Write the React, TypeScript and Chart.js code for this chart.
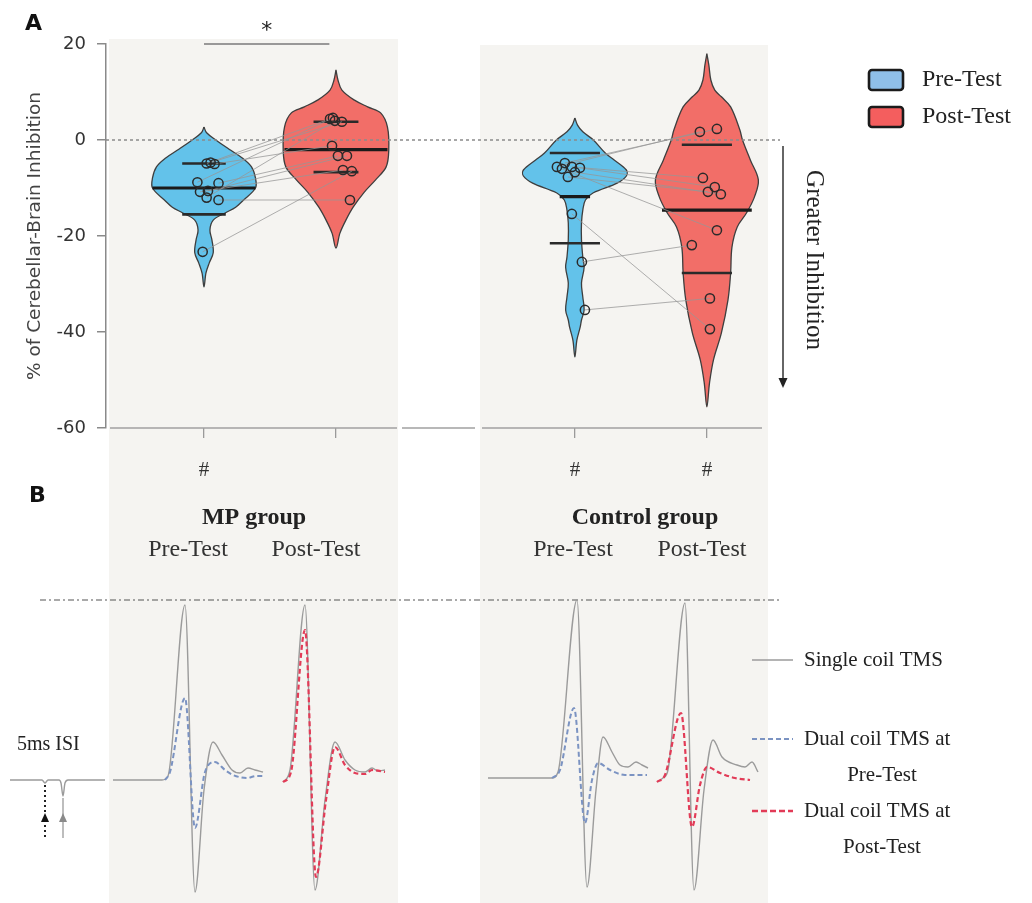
import React, { useEffect, useRef } from 'react';
import { Chart, registerables } from 'chart.js';

Chart.register(...registerables);

// ================= Panel A data =================
const CATEGORIES = ['MP Pre-Test', 'MP Post-Test', 'Control Pre-Test', 'Control Post-Test'];
const CAT_POS = [1, 2, 3.81, 4.81];
const CAT_HASH = ['#', '', '#', '#'];
const Y_MIN = -60;
const Y_MAX = 20;
const Y_STEP = 20;

// individual subjects (same index = same subject, pre -> post)
const MP_PRE = [-4.9, -5.0, -4.7, -8.8, -9.0, -10.8, -10.6, -12.0, -12.5, -23.3];
const MP_POST = [4.4, -1.2, 3.8, 4.6, -3.3, -6.25, -3.3, 4.0, -12.5, -6.5];
const CTL_PRE = [-5.6, -4.8, -5.6, -5.8, -7.7, -6.7, -6.0, -15.4, -25.4, -35.4];
const CTL_POST = [1.7, 2.3, -7.9, -9.8, -10.8, -11.3, -18.8, -39.4, -21.9, -33.0];
// horizontal jitter of the dots (category units)
const MP_PRE_JIT = [0.02, 0.08, 0.05, -0.05, 0.11, -0.03, 0.03, 0.02, 0.11, -0.01];
const MP_POST_JIT = [-0.045, -0.03, 0.045, -0.023, 0.015, 0.053, 0.083, -0.008, 0.106, 0.12];
const CTL_PRE_JIT = [-0.136, -0.076, -0.023, 0.038, -0.053, 0.0, -0.098, -0.023, 0.053, 0.076];
const CTL_POST_JIT = [-0.053, 0.076, -0.03, 0.06, 0.008, 0.106, 0.076, 0.023, -0.114, 0.023];

// summary lines
const Q3 = [-4.9, 3.8, -2.7, -1.0];
const MEDIAN = [-10.0, -2.0, -11.8, -14.6];
const Q1 = [-15.5, -6.7, -21.5, -27.7];

// violin density profiles: value levels and half-widths (category units)
const VIO_Y_MP_PRE = [2.7, 1.5, 0, -2.1, -3.75, -5.6, -7.9, -10, -12.5, -14, -15.2, -16.7, -18.75, -20.8, -23.5, -25.6, -27.7, -30.6];
const VIO_W_MP_PRE = [0, 0.02, 0.09, 0.2, 0.29, 0.36, 0.39, 0.39, 0.3, 0.24, 0.16, 0.07, 0.045, 0.06, 0.07, 0.04, 0.015, 0];
const VIO_Y_MP_POST = [14.6, 12.5, 10.4, 8.3, 6.9, 5.6, 2.7, -2.1, -5.6, -8.3, -11, -14, -16.7, -19.4, -22.5];
const VIO_W_MP_POST = [0, 0.015, 0.045, 0.14, 0.24, 0.34, 0.39, 0.4, 0.38, 0.3, 0.21, 0.13, 0.075, 0.03, 0];
const VIO_Y_CTL_PRE = [4.6, 3.1, 1.7, 0, -2.7, -4.2, -6.25, -7.5, -9, -11, -12.5, -14.6, -17.3, -20.8, -24.4, -26.5, -29.8, -32.7, -35.4, -37.5, -39, -41.7, -45.2];
const VIO_W_CTL_PRE = [0, 0.02, 0.06, 0.14, 0.23, 0.3, 0.39, 0.39, 0.32, 0.14, 0.08, 0.06, 0.05, 0.05, 0.06, 0.07, 0.05, 0.06, 0.07, 0.05, 0.04, 0.015, 0];
const VIO_Y_CTL_POST = [18, 15.6, 12.5, 10.4, 9, 6.9, 2.1, 0, -4.2, -8.3, -11.9, -15.2, -18.1, -22.3, -27.7, -33.3, -40.2, -45.8, -50.6, -55.6];
const VIO_W_CTL_POST = [0, 0.015, 0.03, 0.06, 0.11, 0.18, 0.25, 0.27, 0.33, 0.39, 0.36, 0.3, 0.23, 0.19, 0.18, 0.16, 0.11, 0.05, 0.02, 0];

const SIG_FROM = 1;
const SIG_TO = 1.95;
const SIG_Y = 20;
const SIG_LABEL = '*';

// ================= Panel B data (MEP traces; t in ms, amplitude in mV) =================
const REF_PEAK = 1.8;
const REF_T = [10, 195];

const ISI_T = [0, 8, 8.75, 9.5, 12.25, 12.75, 13.25, 13.75, 14.5, 23.75];
const ISI_A = [0, 0, -0.03, 0, 0, -0.03, -0.16, -0.03, 0, 0];
const ISI_PULSES = [8.75, 13.25];

const MP_PRE_SINGLE_T = [0, 12.25, 13.75, 18, 20.5, 22.75, 25, 27.25, 29.75, 31.75, 33.75, 35.5, 37.5];
const MP_PRE_SINGLE_A = [0, 0, 0.04, 1.75, -1.12, -0.1, 0.38, 0.25, 0.1, 0.07, 0.12, 0.1, 0.08];
const MP_PRE_DUAL_T = [13, 14.25, 18, 20.5, 23, 25.5, 28, 30, 33.5, 35.75, 38];
const MP_PRE_DUAL_A = [0, 0.08, 0.82, -0.48, 0.08, 0.18, 0.1, 0.05, 0.02, 0.04, 0.04];

const MP_POST_SINGLE_T = [0, 1.75, 5.5, 8, 10.5, 13, 15.5, 18, 20.5, 22.25, 23.75, 25.5];
const MP_POST_SINGLE_A = [-0.02, 0.1, 1.75, -1.1, -0.2, 0.38, 0.2, 0.1, 0.08, 0.12, 0.09, 0.1];
const MP_POST_DUAL_T = [0, 2, 5.5, 8.25, 10.75, 13, 15.5, 18, 20.5, 22.25, 25.5];
const MP_POST_DUAL_A = [-0.02, 0.08, 1.5, -0.97, -0.2, 0.33, 0.15, 0.07, 0.06, 0.1, 0.08];

const CTL_PRE_SINGLE_T = [0, 16, 17.5, 22.25, 24.75, 27, 28.75, 31, 33, 35, 37, 38.5, 40];
const CTL_PRE_SINGLE_A = [0.02, 0.02, 0.08, 1.8, -1.07, -0.1, 0.43, 0.28, 0.15, 0.13, 0.18, 0.15, 0.12];
const CTL_PRE_DUAL_T = [16, 18, 21.5, 24.25, 26, 27.5, 30.5, 34.25, 39.75];
const CTL_PRE_DUAL_A = [0.02, 0.1, 0.72, -0.43, 0, 0.17, 0.1, 0.05, 0.05];

const CTL_POST_SINGLE_T = [0, 1.5, 2.75, 7, 9.25, 11.75, 14, 16.25, 20, 22, 23.75, 25.25];
const CTL_POST_SINGLE_A = [-0.02, 0.02, 0.1, 1.77, -1.1, -0.1, 0.4, 0.23, 0.15, 0.13, 0.18, 0.08];
const CTL_POST_DUAL_T = [0, 2, 6, 8.75, 10.75, 12.5, 15.75, 19.5, 23.25];
const CTL_POST_DUAL_A = [-0.02, 0.05, 0.67, -0.47, -0.05, 0.13, 0.07, 0.02, 0];

// ================= layout / style =================
const PANEL_BG = '#f5f4f1';
const BLUE = '#63c2ea';
const RED = '#f26e68';
const X_MIN = 0.2576;
const X_MAX = 5.364;
const QUART_HALF = [0.165, 0.17, 0.19, 0.19];
const MEDIAN_HALF = [0.39, 0.39, 0.115, 0.34];
const TRACE_OFFSET = { isi: 2.5, mpPre: 28.25, mpPost: 70.75, ctlPre: 122, ctlPost: 164.25 };
const SERIF = '"Liberation Serif", "Times New Roman", serif';
const SANS = '"DejaVu Sans", Arial, sans-serif';
const TRACE_GRAY = '#9b9b9b';
const TRACE_BLUE = '#7b93c2';
const TRACE_RED = '#e23b57';

function violinPolygon(center: number, ys: number[], ws: number[]) {
  const right = ys.map((y, i) => ({ x: center + ws[i], y }));
  const left = ys.slice(0, -1).map((y, i) => ({ x: center - ws[i], y })).reverse();
  return [...right, ...left];
}

function segments(vals: number[], halves: number[]) {
  const out: any[] = [];
  CAT_POS.forEach((c, i) => {
    out.push({ x: c - halves[i], y: vals[i] }, { x: c + halves[i], y: vals[i] }, { x: c, y: null });
  });
  return out;
}

function pairLines(pre: number[], preJ: number[], post: number[], postJ: number[], c0: number, c1: number) {
  const out: any[] = [];
  pre.forEach((v, i) => {
    out.push({ x: c0 + preJ[i], y: v }, { x: c1 + postJ[i], y: post[i] }, { x: c1, y: null });
  });
  return out;
}

function dots(vals: number[], jit: number[], c: number) {
  return vals.map((v, i) => ({ x: c + jit[i], y: v }));
}

function trace(t: number[], a: number[], off: number) {
  return t.map((tt, i) => ({ x: off + tt, y: a[i] }));
}

const topPlugin = {
  id: 'topDecor',
  afterDraw(chart: any) {
    const { ctx } = chart;
    const xs = chart.scales.x;
    const ys = chart.scales.y;
    ctx.save();
    // broken x-axis baseline
    const yb = ys.getPixelForValue(Y_MIN);
    ctx.strokeStyle = '#a0a0a0';
    ctx.lineWidth = 1.5;
    [[110, 397], [402, 475], [482, 762]].forEach(([a, b]) => {
      ctx.beginPath();
      ctx.moveTo(a, yb);
      ctx.lineTo(b, yb);
      ctx.stroke();
    });
    // panel letters
    ctx.fillStyle = '#111';
    ctx.font = `bold 22px ${SANS}`;
    ctx.textAlign = 'left';
    ctx.textBaseline = 'alphabetic';
    ctx.fillText('A', 25, 30);
    ctx.fillText('B', 29, 502);
    // significance star
    ctx.fillStyle = '#222';
    ctx.font = `22px ${SANS}`;
    ctx.textAlign = 'center';
    ctx.fillText(SIG_LABEL, xs.getPixelForValue((SIG_FROM + SIG_TO) / 2), 37);
    // # markers
    ctx.font = `21px ${SERIF}`;
    ctx.textBaseline = 'middle';
    ctx.fillStyle = '#333';
    CAT_POS.forEach((c, i) => {
      if (CAT_HASH[i]) ctx.fillText(CAT_HASH[i], xs.getPixelForValue(c), 470);
    });
    // group labels
    ctx.fillStyle = '#222';
    ctx.font = `bold 24px ${SERIF}`;
    ctx.fillText('MP group', 254, 518);
    ctx.fillText('Control group', 645, 518);
    ctx.font = `24px ${SERIF}`;
    ctx.fillStyle = '#333';
    ctx.fillText('Pre-Test', 188, 550);
    ctx.fillText('Post-Test', 316, 550);
    ctx.fillText('Pre-Test', 573, 550);
    ctx.fillText('Post-Test', 702, 550);
    // legend
    const sw = [
      { y: 70, c: '#8fbfe8', t: 'Pre-Test' },
      { y: 107, c: '#f45e5e', t: 'Post-Test' },
    ];
    sw.forEach((s) => {
      ctx.beginPath();
      ctx.roundRect(869, s.y, 34, 20, 3);
      ctx.fillStyle = s.c;
      ctx.fill();
      ctx.lineWidth = 2.6;
      ctx.strokeStyle = '#1b1b1b';
      ctx.stroke();
      ctx.fillStyle = '#222';
      ctx.font = `24px ${SERIF}`;
      ctx.textAlign = 'left';
      ctx.textBaseline = 'middle';
      ctx.fillText(s.t, 922, s.y + 10);
    });
    // greater inhibition arrow
    ctx.strokeStyle = '#333';
    ctx.fillStyle = '#222';
    ctx.lineWidth = 1.5;
    ctx.beginPath();
    ctx.moveTo(783, 146);
    ctx.lineTo(783, 380);
    ctx.stroke();
    ctx.beginPath();
    ctx.moveTo(778.5, 378);
    ctx.lineTo(787.5, 378);
    ctx.lineTo(783, 388);
    ctx.closePath();
    ctx.fill();
    ctx.save();
    ctx.translate(814, 260);
    ctx.rotate(Math.PI / 2);
    ctx.font = `25px ${SERIF}`;
    ctx.textAlign = 'center';
    ctx.textBaseline = 'middle';
    ctx.fillStyle = '#222';
    ctx.fillText('Greater Inhibition', 0, 0);
    ctx.restore();
    ctx.restore();
  },
};

const bottomPlugin = {
  id: 'bottomDecor',
  afterDraw(chart: any) {
    const { ctx } = chart;
    const xs = chart.scales.x;
    const base = chart.scales.y.getPixelForValue(0);
    ctx.save();
    ctx.fillStyle = '#222';
    ctx.font = `20px ${SERIF}`;
    ctx.textAlign = 'left';
    ctx.textBaseline = 'middle';
    ctx.fillText('5ms ISI', 17, base - 35);
    // stimulus arrows
    const p1 = xs.getPixelForValue(TRACE_OFFSET.isi + ISI_PULSES[0]);
    const p2 = xs.getPixelForValue(TRACE_OFFSET.isi + ISI_PULSES[1]);
    ctx.strokeStyle = '#222';
    ctx.lineWidth = 2;
    ctx.setLineDash([2, 3]);
    ctx.beginPath();
    ctx.moveTo(p1, base + 5);
    ctx.lineTo(p1, base + 58);
    ctx.stroke();
    ctx.setLineDash([]);
    ctx.fillStyle = '#111';
    ctx.beginPath();
    ctx.moveTo(p1, base + 33);
    ctx.lineTo(p1 - 4, base + 42);
    ctx.lineTo(p1 + 4, base + 42);
    ctx.closePath();
    ctx.fill();
    ctx.strokeStyle = '#9a9a9a';
    ctx.lineWidth = 1.3;
    ctx.beginPath();
    ctx.moveTo(p2, base + 18);
    ctx.lineTo(p2, base + 58);
    ctx.stroke();
    ctx.fillStyle = '#8a8a8a';
    ctx.beginPath();
    ctx.moveTo(p2, base + 33);
    ctx.lineTo(p2 - 4, base + 42);
    ctx.lineTo(p2 + 4, base + 42);
    ctx.closePath();
    ctx.fill();
    // legend
    const items = [
      { y: 80, color: TRACE_GRAY, dash: [] as number[], w: 1.5, lines: ['Single coil TMS'] },
      { y: 159, color: TRACE_BLUE, dash: [5, 3], w: 1.8, lines: ['Dual coil TMS at', 'Pre-Test'] },
      { y: 231, color: TRACE_RED, dash: [6, 3], w: 2.6, lines: ['Dual coil TMS at', 'Post-Test'] },
    ];
    items.forEach((it) => {
      ctx.strokeStyle = it.color;
      ctx.lineWidth = it.w;
      ctx.setLineDash(it.dash);
      ctx.beginPath();
      ctx.moveTo(752, it.y);
      ctx.lineTo(793, it.y);
      ctx.stroke();
      ctx.setLineDash([]);
      ctx.fillStyle = '#222';
      ctx.font = `21px ${SERIF}`;
      ctx.textAlign = 'left';
      ctx.textBaseline = 'middle';
      ctx.fillText(it.lines[0], 804, it.y);
      if (it.lines[1]) {
        ctx.textAlign = 'center';
        ctx.fillText(it.lines[1], 882, it.y + 36);
      }
    });
    ctx.restore();
  },
};

function topConfig(): any {
  const violins = [
    { c: CAT_POS[0], y: VIO_Y_MP_PRE, w: VIO_W_MP_PRE, col: BLUE },
    { c: CAT_POS[1], y: VIO_Y_MP_POST, w: VIO_W_MP_POST, col: RED },
    { c: CAT_POS[2], y: VIO_Y_CTL_PRE, w: VIO_W_CTL_PRE, col: BLUE },
    { c: CAT_POS[3], y: VIO_Y_CTL_POST, w: VIO_W_CTL_POST, col: RED },
  ].map((v, i) => ({
    type: 'line',
    label: CATEGORIES[i],
    data: violinPolygon(v.c, v.y, v.w),
    fill: 'shape',
    backgroundColor: v.col,
    borderColor: '#3e3e3e',
    borderWidth: 1.3,
    tension: 0.35,
    pointRadius: 0,
    order: 6,
  }));
  const datasets: any[] = [
    ...violins,
    {
      type: 'line',
      label: 'zero',
      data: [{ x: X_MIN, y: 0 }, { x: X_MAX, y: 0 }],
      borderColor: '#8a8a8a',
      borderDash: [3, 3],
      borderWidth: 1.4,
      pointRadius: 0,
      order: 5,
    },
    {
      type: 'line',
      label: 'quartiles',
      data: [...segments(Q3, QUART_HALF), ...segments(Q1, QUART_HALF)],
      borderColor: '#2a2a2a',
      borderWidth: 2.6,
      pointRadius: 0,
      spanGaps: false,
      order: 4,
    },
    {
      type: 'line',
      label: 'median',
      data: segments(MEDIAN, MEDIAN_HALF),
      borderColor: '#1a1a1a',
      borderWidth: 3.2,
      pointRadius: 0,
      spanGaps: false,
      order: 4,
    },
    {
      type: 'line',
      label: 'pairs',
      data: [
        ...pairLines(MP_PRE, MP_PRE_JIT, MP_POST, MP_POST_JIT, CAT_POS[0], CAT_POS[1]),
        ...pairLines(CTL_PRE, CTL_PRE_JIT, CTL_POST, CTL_POST_JIT, CAT_POS[2], CAT_POS[3]),
      ],
      borderColor: 'rgba(150,150,150,0.85)',
      borderWidth: 0.9,
      pointRadius: 0,
      spanGaps: false,
      order: 3,
    },
    {
      type: 'scatter',
      label: 'subjects',
      data: [
        ...dots(MP_PRE, MP_PRE_JIT, CAT_POS[0]),
        ...dots(MP_POST, MP_POST_JIT, CAT_POS[1]),
        ...dots(CTL_PRE, CTL_PRE_JIT, CAT_POS[2]),
        ...dots(CTL_POST, CTL_POST_JIT, CAT_POS[3]),
      ],
      pointRadius: 4.6,
      pointBorderWidth: 1.5,
      borderColor: '#2a2a2a',
      backgroundColor: 'rgba(0,0,0,0)',
      showLine: false,
      order: 1,
    },
    {
      type: 'line',
      label: 'significance',
      data: [{ x: SIG_FROM, y: SIG_Y }, { x: SIG_TO, y: SIG_Y }],
      borderColor: '#7a7a7a',
      borderWidth: 1.6,
      pointRadius: 0,
      clip: false,
      order: 0,
    },
  ];
  return {
    type: 'line',
    data: { datasets },
    options: {
      responsive: false,
      maintainAspectRatio: false,
      animation: false,
      events: [],
      layout: { padding: { left: 0, right: 252, top: 44, bottom: 0 } },
      plugins: { legend: { display: false }, tooltip: { enabled: false } },
      scales: {
        x: {
          type: 'linear',
          min: X_MIN,
          max: X_MAX,
          afterBuildTicks: (s: any) => {
            s.ticks = CAT_POS.map((v) => ({ value: v }));
          },
          afterFit: (s: any) => {
            s.height = 152;
            s.paddingLeft = 0;
            s.paddingRight = 0;
          },
          ticks: { display: false },
          grid: { drawOnChartArea: false, drawTicks: true, tickLength: 10, color: '#9a9a9a', lineWidth: 1.3 },
          border: { display: false },
        },
        y: {
          type: 'linear',
          min: Y_MIN,
          max: Y_MAX,
          afterFit: (s: any) => {
            s.width = 106;
            s.paddingTop = 0;
            s.paddingBottom = 0;
          },
          ticks: { stepSize: Y_STEP, color: '#333', padding: 11, font: { family: SANS, size: 18 } },
          grid: { drawOnChartArea: false, drawTicks: true, tickLength: 9, color: '#8a8a8a', lineWidth: 1.5 },
          border: { display: true, color: '#8a8a8a', width: 1.5 },
          title: {
            display: true,
            text: '% of Cerebellar-Brain Inhibition',
            color: '#444',
            font: { family: SANS, size: 18.5 },
            padding: { top: 24, bottom: 0 },
          },
        },
      },
    },
    plugins: [topPlugin],
  };
}

function bottomConfig(): any {
  const mk = (label: string, data: any[], color: string, width: number, dash: number[], order: number) => ({
    label,
    data,
    borderColor: color,
    borderWidth: width,
    borderDash: dash,
    pointRadius: 0,
    cubicInterpolationMode: 'monotone',
    fill: false,
    clip: false,
    order,
  });
  const datasets = [
    mk('ref', REF_T.map((t) => ({ x: t, y: REF_PEAK })), '#555', 1.2, [6, 3, 2, 3], 5),
    mk('isi', trace(ISI_T, ISI_A, TRACE_OFFSET.isi), TRACE_GRAY, 1.4, [], 4),
    mk('MP pre single', trace(MP_PRE_SINGLE_T, MP_PRE_SINGLE_A, TRACE_OFFSET.mpPre), TRACE_GRAY, 1.4, [], 4),
    mk('MP post single', trace(MP_POST_SINGLE_T, MP_POST_SINGLE_A, TRACE_OFFSET.mpPost), TRACE_GRAY, 1.4, [], 4),
    mk('Ctl pre single', trace(CTL_PRE_SINGLE_T, CTL_PRE_SINGLE_A, TRACE_OFFSET.ctlPre), TRACE_GRAY, 1.4, [], 4),
    mk('Ctl post single', trace(CTL_POST_SINGLE_T, CTL_POST_SINGLE_A, TRACE_OFFSET.ctlPost), TRACE_GRAY, 1.4, [], 4),
    mk('MP pre dual', trace(MP_PRE_DUAL_T, MP_PRE_DUAL_A, TRACE_OFFSET.mpPre), TRACE_BLUE, 2, [5, 3], 1),
    mk('Ctl pre dual', trace(CTL_PRE_DUAL_T, CTL_PRE_DUAL_A, TRACE_OFFSET.ctlPre), TRACE_BLUE, 2, [5, 3], 1),
    mk('MP post dual', trace(MP_POST_DUAL_T, MP_POST_DUAL_A, TRACE_OFFSET.mpPost), TRACE_RED, 2.2, [5, 3], 1),
    mk('Ctl post dual', trace(CTL_POST_DUAL_T, CTL_POST_DUAL_A, TRACE_OFFSET.ctlPost), TRACE_RED, 2.2, [5, 3], 1),
  ];
  return {
    type: 'line',
    data: { datasets },
    options: {
      responsive: false,
      maintainAspectRatio: false,
      animation: false,
      events: [],
      layout: { padding: { left: 0, right: 0, top: 20, bottom: 3 } },
      plugins: { legend: { display: false }, tooltip: { enabled: false } },
      scales: {
        x: { type: 'linear', min: 0, max: 258, display: false },
        y: { type: 'linear', min: -1.2, max: 1.8, display: false },
      },
    },
    plugins: [bottomPlugin],
  };
}

export default function App() {
  const topRef = useRef<HTMLCanvasElement>(null);
  const botRef = useRef<HTMLCanvasElement>(null);
  useEffect(() => {
    const c1 = new Chart(topRef.current as HTMLCanvasElement, topConfig());
    const c2 = new Chart(botRef.current as HTMLCanvasElement, bottomConfig());
    return () => {
      c1.destroy();
      c2.destroy();
    };
  }, []);
  return (
    <div style={{ position: 'absolute', left: 0, top: 0, width: 1032, height: 903, background: '#fff', overflow: 'hidden' }}>
      <div style={{ position: 'absolute', left: 109, top: 39, width: 289, height: 864, background: PANEL_BG }} />
      <div style={{ position: 'absolute', left: 480, top: 45, width: 288, height: 858, background: PANEL_BG }} />
      <canvas ref={topRef} width={1032} height={580} style={{ position: 'absolute', left: 0, top: 0, width: 1032, height: 580 }} />
      <canvas ref={botRef} width={1032} height={323} style={{ position: 'absolute', left: 0, top: 580, width: 1032, height: 323 }} />
    </div>
  );
}
